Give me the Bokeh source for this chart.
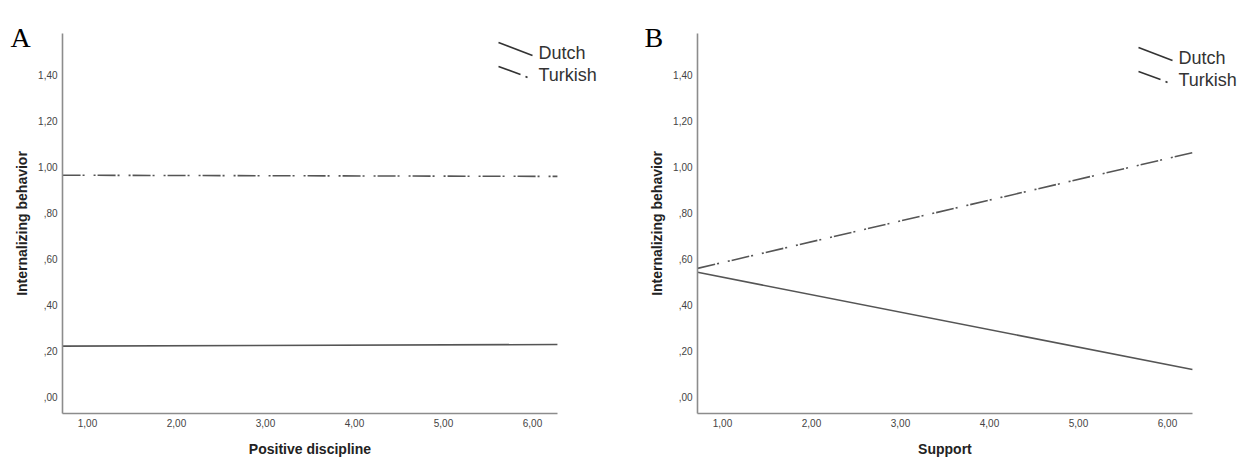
import math
from bokeh.plotting import figure
from bokeh.layouts import row
from bokeh.models import FixedTicker, Label, Arrow, Range1d
from bokeh.embed import file_html
from bokeh.resources import INLINE

# ---- data ----
x_ticks = [1, 2, 3, 4, 5, 6]
x_tick_labels = ["1,00", "2,00", "3,00", "4,00", "5,00", "6,00"]
y_ticks = [0.0, 0.2, 0.4, 0.6, 0.8, 1.0, 1.2, 1.4]
y_tick_labels = [",00", ",20", ",40", ",60", ",80", "1,00", "1,20", "1,40"]
series = ["Dutch", "Turkish"]
x_line = [0.72, 6.28]
a_dutch = [0.219, 0.226]
a_turkish = [0.962, 0.957]
b_dutch = [0.540, 0.117]
b_turkish = [0.557, 1.060]

# axis extents (data units)
X_AXIS = (0.72, 6.28)
Y_AXIS = (-0.074, 1.578)

# ---- layout geometry (pixels) ----
FIG_H = 457
PX_X = 89.0      # px per x unit
PX_Y = 230.0     # px per y unit
Y0_CANVAS = 396  # canvas y of value 0.00

LINE_COLOR = "#555555"
AXIS_COLOR = "#8c8c8c"
DASHDOT = "18 2 2 9 2 2"


def make_panel(letter, xlabel, dutch, turkish, width, x1_canvas, letter_x, leg_x, leg_y):
    # ranges chosen so that the whole figure is the plotting frame
    x_start = 1 - x1_canvas / PX_X
    x_end = 1 + (width - x1_canvas) / PX_X
    y_start = -(FIG_H - Y0_CANVAS) / PX_Y
    y_end = Y0_CANVAS / PX_Y
    p = figure(width=width, height=FIG_H, output_backend="svg", toolbar_location=None,
               x_range=Range1d(x_start, x_end), y_range=Range1d(y_start, y_end),
               min_border=0, min_border_left=0, min_border_right=0,
               min_border_top=0, min_border_bottom=0)
    p.outline_line_color = None
    p.grid.visible = False
    p.background_fill_color = "white"
    p.border_fill_color = "white"

    p.xaxis.fixed_location = Y_AXIS[0]
    p.yaxis.fixed_location = X_AXIS[0]
    p.xaxis.bounds = X_AXIS
    p.yaxis.bounds = Y_AXIS

    for ax in (p.xaxis[0], p.yaxis[0]):
        ax.axis_line_color = AXIS_COLOR
        ax.axis_line_width = 1.6
        ax.major_tick_line_color = None
        ax.minor_tick_line_color = None
        ax.major_tick_out = 0
        ax.major_tick_in = 0
        ax.minor_tick_out = 0
        ax.major_label_text_font = "Liberation Sans"
        ax.major_label_text_font_size = "10px"
        ax.major_label_text_color = "#444444"
        ax.major_label_standoff = 5

    p.xaxis.ticker = FixedTicker(ticks=x_ticks)
    p.xaxis.major_label_overrides = dict(zip(x_ticks, x_tick_labels))
    p.yaxis.ticker = FixedTicker(ticks=y_ticks)
    p.yaxis.major_label_overrides = dict(zip(y_ticks, y_tick_labels))

    p.line(x_line, dutch, line_color=LINE_COLOR, line_width=1.6)
    p.line(x_line, turkish, line_color=LINE_COLOR, line_width=1.6, line_dash=DASHDOT)

    # axis titles
    p.add_layout(Label(x=x1_canvas - 25 + (X_AXIS[1] - X_AXIS[0]) * PX_X / 2, y=448,
                       x_units="canvas", y_units="canvas", text=xlabel,
                       text_font="Liberation Sans", text_font_size="14px",
                       text_font_style="bold", text_color="#222222",
                       text_align="center", text_baseline="middle"))
    p.add_layout(Label(x=x1_canvas - 66, y=223, x_units="canvas", y_units="canvas",
                       text="Internalizing behavior", angle=math.pi / 2,
                       text_font="Liberation Sans", text_font_size="14px",
                       text_font_style="bold", text_color="#222222",
                       text_align="center", text_baseline="middle"))

    # panel letter
    p.add_layout(Label(x=letter_x, y=37, x_units="canvas", y_units="canvas",
                       text=letter, text_font="Liberation Serif", text_font_size="28px",
                       text_color="black", text_baseline="alphabetic"))

    # legend key (slanted samples)
    p.add_layout(Arrow(start=None, end=None, x_start=leg_x, y_start=leg_y,
                       x_end=leg_x + 34, y_end=leg_y + 13,
                       start_units="canvas", end_units="canvas",
                       line_color="#333333", line_width=1.6))
    p.add_layout(Arrow(start=None, end=None, x_start=leg_x, y_start=leg_y + 24,
                       x_end=leg_x + 22, y_end=leg_y + 32,
                       start_units="canvas", end_units="canvas",
                       line_color="#333333", line_width=1.6))
    p.add_layout(Arrow(start=None, end=None, x_start=leg_x + 27, y_start=leg_y + 34,
                       x_end=leg_x + 29, y_end=leg_y + 35,
                       start_units="canvas", end_units="canvas",
                       line_color="#333333", line_width=1.6))
    for i, name in enumerate(series):
        p.add_layout(Label(x=leg_x + 40, y=leg_y + 10 + 22 * i, x_units="canvas", y_units="canvas",
                           text=name, text_font="Liberation Sans", text_font_size="18px",
                           text_color="#333333", text_baseline="middle"))
    return p


# x1_canvas: canvas x of the 1,00 tick in each figure
pA = make_panel("A", "Positive discipline", a_dutch, a_turkish, 620, 87, 10, 498, 42)
pB = make_panel("B", "Support", b_dutch, b_turkish, 620, 102, 24, 518, 47)

layout = row(pA, pB)
open("out.html", "w").write(file_html(layout, INLINE))
